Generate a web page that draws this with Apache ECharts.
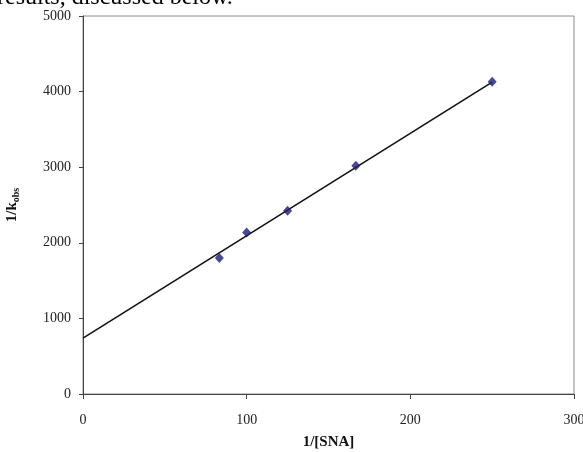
<!DOCTYPE html>
<html>
<head>
<meta charset="utf-8">
<script src="https://cdn.jsdelivr.net/npm/echarts@6/dist/echarts.min.js"></script>
<style>
  html, body { margin: 0; padding: 0; background: #fff; }
  #chart { width: 583px; height: 452px; }
</style>
</head>
<body>
<div id="chart"></div>
<script>
// measured points: 1/[SNA] vs 1/k_obs
const invSNA = [83.3, 100, 125, 166.7, 250];
const invKobs = [1800, 2135, 2425, 3020, 4130];
// linear trend line
const trendX = [0, 250];
const trendY = [740, 4125];
const xTicks = [0, 100, 200, 300];
const yTicks = [0, 1000, 2000, 3000, 4000, 5000];

const chartDom = document.getElementById('chart');
const myChart = echarts.init(chartDom);

const serif = '"Liberation Serif", "DejaVu Serif", serif';

const option = {
  animation: false,
  backgroundColor: '#fff',
  graphic: [
    {
      type: 'text',
      left: -3,
      top: -14,
      style: {
        text: 'results, discussed below.',
        font: '24px ' + serif,
        fill: '#000'
      }
    }
  ],
  grid: {
    left: 83,
    right: 9,
    top: 16,
    bottom: 58,
    outerBoundsMode: 'none',
    containLabel: false,
    show: true,
    borderColor: '#8a8a8a',
    borderWidth: 1
  },
  xAxis: {
    type: 'value',
    min: xTicks[0],
    max: xTicks[xTicks.length - 1],
    interval: 100,
    name: '1/[SNA]',
    nameLocation: 'middle',
    nameGap: 41,
    nameTextStyle: { fontFamily: serif, fontSize: 15, fontWeight: 'bold', color: '#111' },
    axisLine: { show: true, lineStyle: { color: '#444', width: 1 } },
    axisTick: { show: true, inside: false, length: 5, lineStyle: { color: '#444' } },
    axisLabel: { fontFamily: serif, fontSize: 14, color: '#222', margin: 19, formatter: v => String(v) },
    splitLine: { show: false }
  },
  yAxis: {
    type: 'value',
    min: yTicks[0],
    max: yTicks[yTicks.length - 1],
    interval: 1000,
    name: '{a|1/k}{b|obs}',
    nameLocation: 'middle',
    nameGap: 62,
    nameRotate: 90,
    nameTextStyle: {
      fontFamily: serif,
      color: '#111',
      rich: {
        a: { fontFamily: serif, fontSize: 15, fontWeight: 'bold', color: '#111', lineHeight: 18 },
        b: { fontFamily: serif, fontSize: 10, fontWeight: 'bold', color: '#111', lineHeight: 18, verticalAlign: 'bottom', padding: [7, 0, 0, 0] }
      }
    },
    axisLine: { show: true, lineStyle: { color: '#444', width: 1 } },
    axisTick: { show: true, inside: false, length: 4, lineStyle: { color: '#444' } },
    axisLabel: { fontFamily: serif, fontSize: 14, color: '#222', margin: 12, formatter: v => String(v) },
    splitLine: { show: false }
  },
  series: [
    {
      name: 'trend',
      type: 'line',
      data: trendX.map((x, i) => [x, trendY[i]]),
      showSymbol: false,
      symbol: 'none',
      lineStyle: { color: '#111', width: 1.6 },
      z: 2
    },
    {
      name: 'data',
      type: 'scatter',
      data: invSNA.map((x, i) => [x, invKobs[i]]),
      symbol: 'diamond',
      symbolSize: [9, 10],
      itemStyle: { color: '#1c1c7a' },
      z: 3
    }
  ]
};
myChart.setOption(option);
</script>
</body>
</html>
